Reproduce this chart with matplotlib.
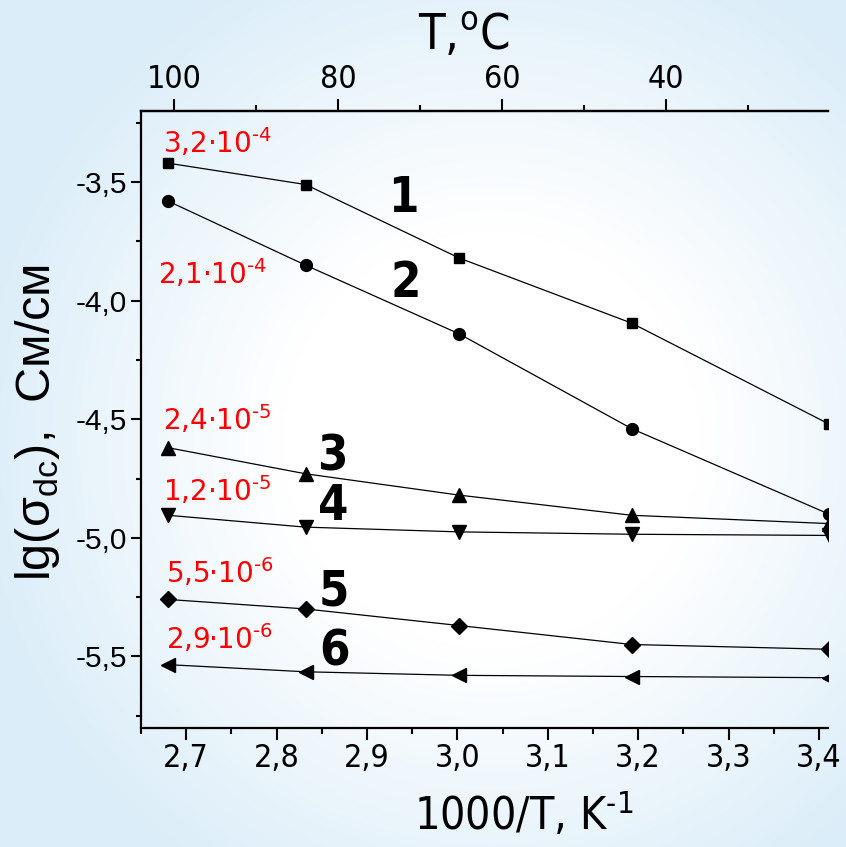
import numpy as np
import matplotlib
matplotlib.use('Agg')
import matplotlib.pyplot as plt
from matplotlib.ticker import FuncFormatter

# 1000/T for 100, 80, 60, 40, 20 C
x = [2.680, 2.832, 3.002, 3.193, 3.411]

s1 = [-3.42, -3.51, -3.82, -4.095, -4.52]
s2 = [-3.58, -3.85, -4.14, -4.54, -4.90]
s3 = [-4.62, -4.73, -4.82, -4.905, -4.94]
s4 = [-4.905, -4.955, -4.975, -4.985, -4.99]
s5 = [-5.26, -5.30, -5.37, -5.45, -5.47]
s6 = [-5.535, -5.565, -5.58, -5.585, -5.59]

series = [s1, s2, s3, s4, s5, s6]
markers = ['s', 'o', '^', 'v', 'D', '<']
msizes = [7.5, 8.5, 9.5, 9.5, 8, 9.5]
curve_names = ['1', '2', '3', '4', '5', '6']
sigma_labels = [r'3,2·10$^{\mathregular{‐4}}$', r'2,1·10$^{\mathregular{‐4}}$',
                r'2,4·10$^{\mathregular{‐5}}$', r'1,2·10$^{\mathregular{‐5}}$',
                r'5,5·10$^{\mathregular{‐6}}$', r'2,9·10$^{\mathregular{‐6}}$']

top_T_major = [100, 80, 60, 40]
top_T_minor = [90, 70, 50, 30]

NARROW = dict(family='DejaVu Sans', fontstretch='condensed')
REG = 'Liberation Sans'

fig = plt.figure(figsize=(8.46, 8.47), dpi=100)

# slide-like background
bg = fig.add_axes([0, 0, 1, 1], zorder=-10)
yy, xx = np.mgrid[0:1:300j, 0:1:300j]
r = np.sqrt(((xx - 0.58) / 0.62) ** 2 + ((yy - 0.52) / 0.62) ** 2)
t = np.clip((r - 0.4) / 0.6, 0, 1)[..., None]
edge = np.array([0.86, 0.93, 0.975])
img = (1 - t) * np.array([1.0, 1.0, 1.0]) + t * edge
bg.imshow(img, extent=[0, 1, 0, 1], aspect='auto', origin='upper')
bg.axis('off')

ax = fig.add_axes([141 / 846, 1 - 727.5 / 847, 687 / 846, 616.5 / 847])
ax.set_facecolor('none')

for ys, m, ms in zip(series, markers, msizes):
    ax.plot(x, ys, color='black', lw=0.9, marker=m, ms=ms, mfc='black', mec='black')

ax.set_xlim(2.65, 3.41)
ax.set_ylim(-5.8, -3.2)
ax.set_xticks(np.arange(2.7, 3.41, 0.1))
ax.set_xticks(np.arange(2.65, 3.41, 0.05), minor=True)
ax.set_yticks(np.arange(-5.5, -3.4, 0.5))
ax.set_yticks(np.arange(-5.75, -3.2, 0.25), minor=True)
fmt = FuncFormatter(lambda v, p: f'{v:.1f}'.replace('.', ','))
ax.xaxis.set_major_formatter(fmt)
ax.yaxis.set_major_formatter(fmt)

for side in ['left', 'bottom', 'top']:
    ax.spines[side].set_linewidth(1.6)
ax.spines['right'].set_visible(False)

ax.tick_params(axis='x', which='major', direction='out', length=8.5, width=1.5,
               labelsize=23, pad=3)
ax.tick_params(axis='x', which='minor', direction='out', length=4.3, width=1.5)
ax.tick_params(axis='y', which='major', direction='out', length=7, width=1.5,
               labelsize=21.5, pad=3, labelfontfamily=REG)
ax.tick_params(axis='y', which='minor', direction='out', length=3.6, width=1.5)
ax.tick_params(top=False, right=False, which='both')
for tk in ax.xaxis.get_major_ticks():
    tk.label1.set_family(NARROW['family'])
    tk.label1.set_fontstretch('condensed')


def x2t(v):
    return 100 - (np.asarray(v) - 2.687) / 0.009057


def t2x(v):
    return 2.687 + (100 - np.asarray(v)) * 0.009057


secax = ax.secondary_xaxis('top', functions=(x2t, t2x))
secax.set_xticks(top_T_major)
secax.set_xticks(top_T_minor, minor=True)
secax.xaxis.set_major_formatter(FuncFormatter(lambda v, p: f'{v:.0f}'))
secax.spines['top'].set_linewidth(1.6)
secax.tick_params(which='major', direction='out', length=8.5, width=1.5,
                  labelsize=23, pad=3)
secax.tick_params(which='minor', direction='out', length=4.3, width=1.5)
for tk in secax.xaxis.get_major_ticks():
    tk.label2.set_family(NARROW['family'])
    tk.label2.set_fontstretch('condensed')

# curve numbers (baseline positions)
num_pos = [(2.9406, -3.625), (2.943, -3.983), (2.862, -4.715),
           (2.863, -4.926), (2.863, -5.284), (2.864, -5.538)]
for name, (tx, ty) in zip(curve_names, num_pos):
    ax.text(tx, ty, name, fontsize=35, fontweight='bold', ha='center',
            va='baseline', **NARROW)

# sigma values in red (left edge, baseline)
lab_pos = [(2.674, -3.376), (2.669, -3.929), (2.674, -4.546),
           (2.674, -4.846), (2.678, -5.192), (2.678, -5.470)]
for lab, (tx, ty) in zip(sigma_labels, lab_pos):
    ax.text(tx, ty, lab, fontsize=20, color='#ff0000', family='DejaVu Sans',
            ha='left', va='baseline')

fig.text(524 / 846, 1 - 790 / 847, r'1000/T, K$^{\mathregular{‐1}}$', fontsize=32,
         ha='center', va='top', **NARROW)
fig.text(464 / 846, 1 - 12 / 847, 'T,$^{\mathregular{o}}$C', fontsize=35,
         ha='center', va='top', **NARROW)
fig.text(37 / 846, 1 - 422 / 847, r'lg(σ$_{\mathregular{dc}}$),  См/см', fontsize=35,
         family=REG, rotation=90, ha='center', va='center')

fig.savefig('out.png', dpi=100)
